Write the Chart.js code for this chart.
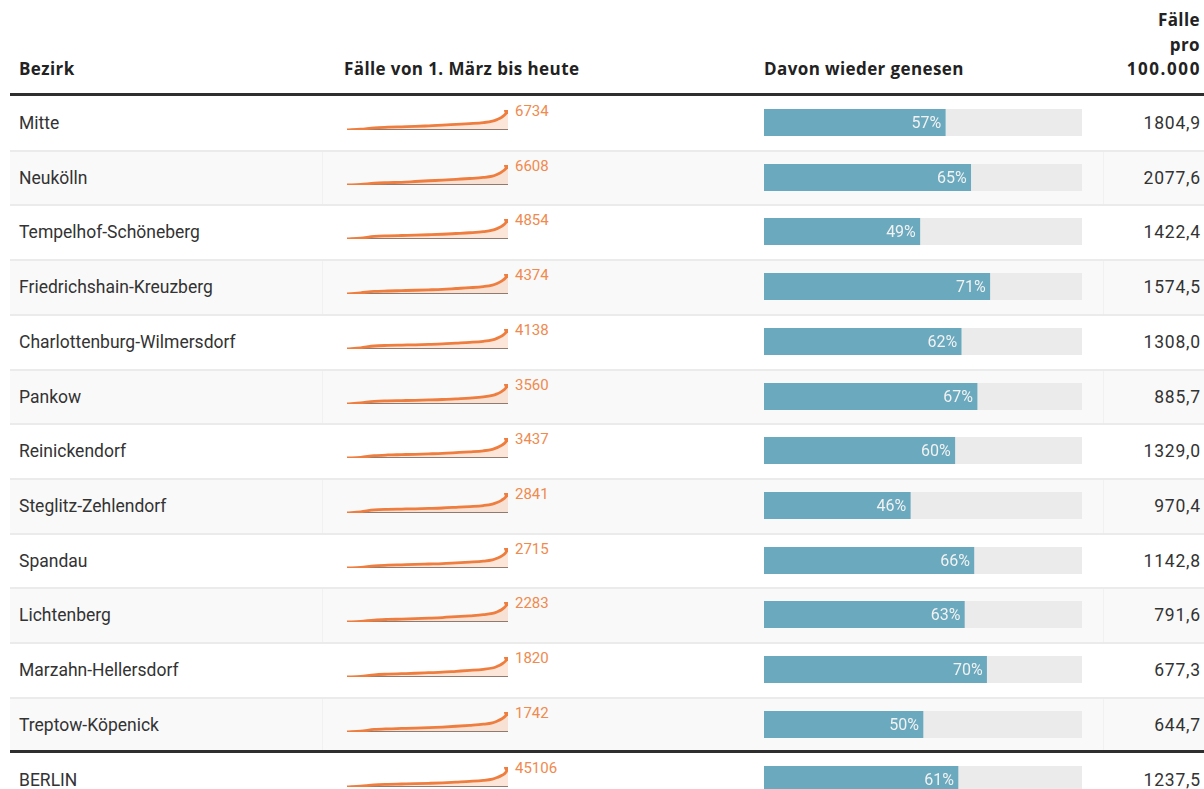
<!DOCTYPE html>
<html>
<head>
<meta charset="utf-8">
<script src="https://cdn.jsdelivr.net/npm/chart.js@4.4.0/dist/chart.umd.min.js"></script>
<style>
    body { margin: 0; background: #fff; font-family: Roboto, "Liberation Sans", sans-serif; color: #333; }
    #wrap { position: relative; width: 1204px; height: 789px; overflow: hidden; }
    .abs { position: absolute; }
    .head { font-family: "Open Sans", Roboto, sans-serif; font-weight: bold; font-size: 17px; color: #222; line-height: 24px; letter-spacing: 0.4px; }
    .name { font-size: 17.5px; line-height: 20px; color: #333; }
    .num { font-size: 17.5px; line-height: 20px; color: #333; text-align: right; letter-spacing: 0.8px; }
    .spk { font-size: 15px; line-height: 16px; color: #f08a4e; }
    .pct { font-size: 16px; line-height: 16px; color: #f2f2f2; text-align: right; }
    canvas { position: absolute; }
</style>
</head>
<body>
<div id="wrap"></div>
<script>
    // Bezirke, Fälle (Verlauf), genesen in %, Fälle pro 100.000
    const districts = ['Mitte', 'Neukölln', 'Tempelhof-Schöneberg', 'Friedrichshain-Kreuzberg',
        'Charlottenburg-Wilmersdorf', 'Pankow', 'Reinickendorf', 'Steglitz-Zehlendorf',
        'Spandau', 'Lichtenberg', 'Marzahn-Hellersdorf', 'Treptow-Köpenick', 'BERLIN'];
    const recovered = [57, 65, 49, 71, 62, 67, 60, 46, 66, 63, 70, 50, 61];
    const per100k = ['1804,9', '2077,6', '1422,4', '1574,5', '1308,0', '885,7', '1329,0',
        '970,4', '1142,8', '791,6', '677,3', '644,7', '1237,5'];

    // Tage seit 1. März
    const days = [0, 21, 42, 63, 84, 105, 126, 147, 168, 189, 210, 224, 231, 238, 245, 248];
    const casesMitte = [0, 270, 740, 940, 1080, 1210, 1410, 1620, 1890, 2150, 2490, 2960, 3500, 4240, 5590, 6734];
    const casesNeukoelln = [0, 200, 600, 780, 900, 1150, 1400, 1600, 1880, 2150, 2500, 2950, 3480, 4250, 5500, 6608];
    const casesTempelhof = [0, 230, 620, 760, 850, 930, 1030, 1150, 1330, 1520, 1780, 2130, 2520, 3060, 4000, 4854];
    const casesFriedrichshain = [0, 260, 560, 660, 740, 820, 910, 1020, 1200, 1380, 1620, 1940, 2300, 2800, 3650, 4374];
    const casesCharlottenburg = [0, 250, 620, 740, 810, 870, 950, 1050, 1210, 1370, 1590, 1880, 2200, 2650, 3420, 4138];
    const casesPankow = [0, 200, 470, 560, 610, 660, 720, 800, 930, 1060, 1250, 1520, 1800, 2200, 2900, 3560];
    const casesReinickendorf = [0, 110, 400, 520, 580, 640, 710, 790, 920, 1060, 1240, 1500, 1780, 2160, 2820, 3437];
    const casesSteglitz = [0, 170, 430, 520, 560, 600, 650, 710, 810, 920, 1060, 1260, 1480, 1800, 2330, 2841];
    const casesSpandau = [0, 90, 300, 380, 430, 480, 540, 600, 700, 800, 930, 1110, 1320, 1610, 2150, 2715];
    const casesLichtenberg = [0, 70, 220, 290, 330, 380, 440, 510, 610, 710, 830, 980, 1150, 1400, 1850, 2283];
    const casesMarzahn = [0, 60, 200, 260, 300, 340, 390, 440, 520, 600, 700, 820, 960, 1160, 1500, 1820];
    const casesTreptow = [0, 70, 220, 280, 310, 340, 380, 430, 500, 580, 680, 800, 940, 1130, 1440, 1742];
    const casesBerlin = [0, 2000, 4900, 6100, 6800, 7500, 8400, 9500, 11100, 12700, 14900, 17900, 21300, 25900, 33700, 45106];
    const cases = [casesMitte, casesNeukoelln, casesTempelhof, casesFriedrichshain, casesCharlottenburg,
        casesPankow, casesReinickendorf, casesSteglitz, casesSpandau, casesLichtenberg,
        casesMarzahn, casesTreptow, casesBerlin];

    const wrap = document.getElementById('wrap');

    function addDiv(cls, text, css) {
        const d = document.createElement('div');
        d.className = 'abs ' + cls;
        d.textContent = text;
        Object.assign(d.style, css);
        wrap.appendChild(d);
        return d;
    }

    // Kopfzeile
    addDiv('head', 'Bezirk', { left: '19px', top: '57px' });
    addDiv('head', 'Fälle von 1. März bis heute', { left: '344px', top: '57px' });
    addDiv('head', 'Davon wieder genesen', { left: '764px', top: '57px' });
    addDiv('head', 'Fälle', { right: '4px', top: '8px', textAlign: 'right' });
    addDiv('head', 'pro', { right: '4px', top: '33px', textAlign: 'right' });
    addDiv('head', '100.000', { right: '3px', top: '57px', textAlign: 'right', letterSpacing: '1.6px' });
    addDiv('', '', { left: '10px', top: '93px', width: '1194px', height: '3px', background: '#2e2e2e' });

    const rowH = 54.7;
    districts.forEach((name, i) => {
        const top = i < 12 ? 96 + i * rowH : 753;
        // Zeilenhintergrund
        if (i % 2 === 1) {
            addDiv('', '', { left: '10px', top: top + 'px', width: '1194px', height: rowH + 'px', background: '#f9f9f9' });
            addDiv('', '', { left: '322px', top: top + 'px', width: '1px', height: rowH + 'px', background: '#f1f1f1' });
            addDiv('', '', { left: '1103px', top: top + 'px', width: '1px', height: rowH + 'px', background: '#f1f1f1' });
        }
        if (i > 0 && i < 12) {
            addDiv('', '', { left: '10px', top: (top - 1) + 'px', width: '1194px', height: '2px', background: '#ebebeb' });
        }
        if (i === 12) {
            addDiv('', '', { left: '10px', top: '750px', width: '1194px', height: '3px', background: '#2e2e2e' });
        }

        addDiv('name', name, { left: '19px', top: (top + 17) + 'px' });
        addDiv('num', per100k[i], { right: '3px', top: (top + 17) + 'px' });

        // Sparkline
        const sc = document.createElement('canvas');
        sc.width = 170; sc.height = 28;
        sc.style.left = '343px'; sc.style.top = (top + 10) + 'px';
        wrap.appendChild(sc);
        const data = cases[i];
        const last = data.length - 1;
        const spark = new Chart(sc, {
            type: 'line',
            data: {
                labels: days,
                datasets: [{
                    data: data.map((v, k) => ({ x: days[k], y: v })),
                    borderColor: '#ee7d3e',
                    borderWidth: 2.8,
                    backgroundColor: 'rgba(240,140,85,0.22)',
                    fill: 'origin',
                    cubicInterpolationMode: 'monotone',
                    pointRadius: ctx => ctx.dataIndex === last ? 4 : 0,
                    pointBackgroundColor: '#ee7d3e',
                    pointBorderWidth: 0,
                    order: 0
                }, {
                    data: days.map(d => ({ x: d, y: 0 })),
                    borderColor: '#4a4a4a',
                    borderWidth: 1.5,
                    pointRadius: 0,
                    fill: false,
                    order: 1
                }]
            },
            options: {
                responsive: false,
                animation: false,
                events: [],
                layout: { padding: { top: 2, right: 5, left: 4, bottom: 2 } },
                plugins: { legend: { display: false }, tooltip: { enabled: false } },
                scales: {
                    x: { type: 'linear', display: false, min: 0, max: days[last] },
                    y: { display: false, min: 0, max: data[last] }
                }
            }
        });
        const pt = spark.getDatasetMeta(0).data[last];
        addDiv('spk', String(data[last]), { left: (343 + pt.x + 7) + 'px', top: (top + 10 + pt.y - 7) + 'px' });

        // Balken genesen
        const bc = document.createElement('canvas');
        bc.width = 318; bc.height = 27;
        bc.style.left = '764px'; bc.style.top = (top + 13) + 'px';
        bc.style.background = '#ebebeb';
        wrap.appendChild(bc);
        const bar = new Chart(bc, {
            type: 'bar',
            data: {
                labels: [name],
                datasets: [{ data: [recovered[i]], backgroundColor: '#6aa9be', barPercentage: 1, categoryPercentage: 1 }]
            },
            options: {
                indexAxis: 'y',
                responsive: false,
                animation: false,
                events: [],
                layout: { padding: 0 },
                plugins: { legend: { display: false }, tooltip: { enabled: false } },
                scales: {
                    x: { display: false, min: 0, max: 100 },
                    y: { display: false }
                }
            }
        });
        const b = bar.getDatasetMeta(0).data[0];
        addDiv('pct', recovered[i] + '%', { right: (1204 - (764 + b.x) + 4) + 'px', top: (top + 13 + 6) + 'px' });
    });
</script>
</body>
</html>
